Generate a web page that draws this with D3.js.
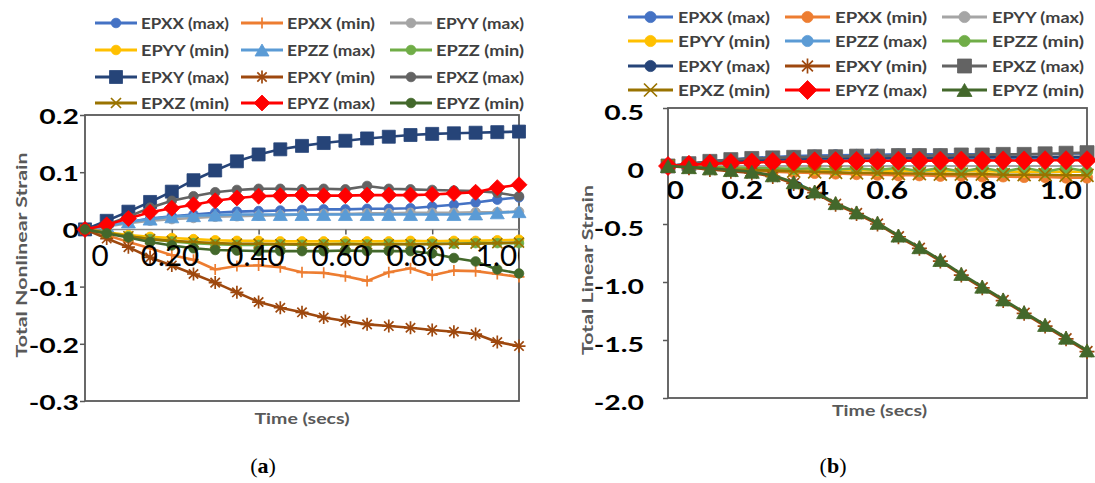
<!DOCTYPE html>
<html>
<head>
<meta charset="utf-8">
<script src="https://cdn.jsdelivr.net/npm/d3@7"></script>
<style>
  body { margin: 0; background: #fff; }
  svg { display: block; }
  text { font-family: Lato, "Liberation Sans", Arial, sans-serif; }
</style>
</head>
<body>
<svg id="fig" width="1095" height="483"></svg>
<script>
// ---- data -------------------------------------------------------------
const timeSteps = [0, 0.05, 0.1, 0.15, 0.2, 0.25, 0.3, 0.35, 0.4, 0.45, 0.5,
                   0.55, 0.6, 0.65, 0.7, 0.75, 0.8, 0.85, 0.9, 0.95, 1.0];

const seriesNames = ["EPXX (max)", "EPXX (min)", "EPYY (max)", "EPYY (min)",
                     "EPZZ (max)", "EPZZ (min)", "EPXY (max)", "EPXY (min)",
                     "EPXZ (max)", "EPXZ (min)", "EPYZ (max)", "EPYZ (min)"];

const seriesColors = ["#4472C4", "#ED7D31", "#A5A5A5", "#FFC000", "#5B9BD5", "#70AD47",
                      "#264478", "#9E480E", "#636363", "#997300", "#FF0000", "#43682B"];

// (a) total nonlinear strain
const nlEPXXmax = [0, 0.006, 0.013, 0.019, 0.023, 0.026, 0.029, 0.031, 0.032, 0.033, 0.034, 0.035, 0.035, 0.036, 0.036, 0.037, 0.040, 0.043, 0.047, 0.052, 0.056];
const nlEPXXmin = [0, -0.010, -0.022, -0.033, -0.045, -0.053, -0.070, -0.064, -0.063, -0.066, -0.075, -0.076, -0.082, -0.090, -0.075, -0.068, -0.080, -0.072, -0.073, -0.078, -0.083];
const nlEPYYmax = [0, 0.005, 0.011, 0.015, 0.018, 0.020, 0.022, 0.023, 0.024, 0.025, 0.026, 0.027, 0.027, 0.028, 0.028, 0.029, 0.029, 0.029, 0.030, 0.030, 0.031];
const nlEPYYmin = [0, -0.005, -0.010, -0.013, -0.015, -0.017, -0.019, -0.020, -0.020, -0.021, -0.021, -0.021, -0.021, -0.021, -0.021, -0.020, -0.021, -0.020, -0.020, -0.019, -0.018];
const nlEPZZmax = [0, 0.006, 0.013, 0.018, 0.022, 0.024, 0.025, 0.026, 0.026, 0.026, 0.026, 0.026, 0.026, 0.026, 0.026, 0.026, 0.026, 0.026, 0.027, 0.029, 0.031];
const nlEPZZmin = [0, -0.006, -0.012, -0.017, -0.021, -0.024, -0.026, -0.027, -0.027, -0.026, -0.027, -0.026, -0.025, -0.026, -0.025, -0.026, -0.025, -0.025, -0.024, -0.024, -0.024];
const nlEPXYmax = [0, 0.015, 0.031, 0.048, 0.066, 0.086, 0.103, 0.119, 0.131, 0.140, 0.146, 0.151, 0.155, 0.159, 0.162, 0.165, 0.167, 0.168, 0.169, 0.170, 0.171];
const nlEPXYmin = [0, -0.016, -0.031, -0.049, -0.063, -0.078, -0.093, -0.110, -0.127, -0.137, -0.145, -0.154, -0.160, -0.166, -0.169, -0.172, -0.176, -0.179, -0.183, -0.197, -0.204];
const nlEPXZmax = [0, 0.008, 0.022, 0.038, 0.050, 0.058, 0.065, 0.069, 0.071, 0.071, 0.070, 0.071, 0.070, 0.076, 0.071, 0.070, 0.069, 0.068, 0.067, 0.064, 0.058];
const nlEPXZmin = [0, -0.006, -0.012, -0.017, -0.020, -0.022, -0.024, -0.025, -0.025, -0.026, -0.026, -0.026, -0.026, -0.026, -0.026, -0.026, -0.026, -0.025, -0.025, -0.024, -0.023];
const nlEPYZmax = [0, 0.008, 0.019, 0.030, 0.037, 0.043, 0.050, 0.055, 0.058, 0.059, 0.060, 0.059, 0.059, 0.060, 0.060, 0.060, 0.061, 0.063, 0.065, 0.073, 0.078];
const nlEPYZmin = [0, -0.007, -0.014, -0.022, -0.028, -0.033, -0.036, -0.037, -0.038, -0.038, -0.038, -0.038, -0.037, -0.038, -0.038, -0.038, -0.042, -0.050, -0.056, -0.070, -0.077];

// (b) total linear strain
const linEPXXmax = [0, 0.02, 0.04, 0.055, 0.07, 0.078, 0.085, 0.09, 0.093, 0.095, 0.097, 0.1, 0.1, 0.1, 0.1, 0.1, 0.1, 0.1, 0.1, 0.1, 0.1];
const linEPXXmin = [0, -0.01, -0.02, -0.03, -0.04, -0.05, -0.055, -0.06, -0.065, -0.07, -0.075, -0.08, -0.08, -0.085, -0.085, -0.09, -0.09, -0.095, -0.095, -0.1, -0.1];
const linEPYYmax = [0, 0.015, 0.03, 0.045, 0.055, 0.06, 0.065, 0.07, 0.07, 0.075, 0.075, 0.075, 0.08, 0.08, 0.08, 0.08, 0.08, 0.08, 0.08, 0.085, 0.085];
const linEPYYmin = [0, -0.005, -0.01, -0.015, -0.02, -0.025, -0.03, -0.03, -0.035, -0.035, -0.04, -0.04, -0.04, -0.045, -0.045, -0.045, -0.05, -0.05, -0.05, -0.05, -0.05];
const linEPZZmax = [0, 0.01, 0.02, 0.03, 0.035, 0.04, 0.045, 0.05, 0.05, 0.05, 0.055, 0.055, 0.055, 0.055, 0.06, 0.06, 0.06, 0.06, 0.06, 0.06, 0.06];
const linEPZZmin = [0, -0.005, -0.01, -0.015, -0.02, -0.02, -0.025, -0.02, -0.03, -0.02, -0.035, -0.015, -0.045, -0.015, -0.05, -0.015, -0.05, -0.015, -0.05, -0.015, -0.045];
const linEPXYmax = [0, 0.015, 0.03, 0.04, 0.05, 0.055, 0.06, 0.065, 0.065, 0.07, 0.07, 0.07, 0.07, 0.07, 0.075, 0.075, 0.075, 0.075, 0.075, 0.075, 0.075];
const linEPXYmin = [0, -0.015, -0.03, -0.045, -0.06, -0.09, -0.15, -0.23, -0.33, -0.41, -0.50, -0.61, -0.71, -0.82, -0.94, -1.05, -1.16, -1.27, -1.38, -1.49, -1.60];
const linEPXZmax = [0, 0.02, 0.04, 0.055, 0.065, 0.07, 0.075, 0.08, 0.08, 0.085, 0.085, 0.09, 0.09, 0.09, 0.095, 0.095, 0.1, 0.1, 0.105, 0.11, 0.115];
const linEPXZmin = [0, -0.01, -0.02, -0.03, -0.035, -0.04, -0.045, -0.05, -0.055, -0.06, -0.06, -0.065, -0.065, -0.07, -0.07, -0.07, -0.075, -0.075, -0.075, -0.08, -0.08];
const linEPYZmax = [0, 0.01, 0.02, 0.025, 0.03, 0.035, 0.038, 0.04, 0.042, 0.044, 0.045, 0.045, 0.046, 0.046, 0.047, 0.047, 0.048, 0.048, 0.05, 0.05, 0.05];
const linEPYZmin = [0, -0.01, -0.02, -0.035, -0.05, -0.08, -0.14, -0.22, -0.32, -0.40, -0.49, -0.60, -0.70, -0.81, -0.93, -1.04, -1.15, -1.26, -1.37, -1.48, -1.59];

// axis tick labels
const nlYTicks = [0.2, 0.1, 0, -0.1, -0.2, -0.3];
const nlYTickLabels = ["0.2", "0.1", "0", "-0.1", "-0.2", "-0.3"];
const nlXTickLabels = ["0", "0.20", "0.40", "0.60", "0.80", "1.00"];
const nlXTickLabelAt = [0.035, 0.196, 0.393, 0.589, 0.762, 0.968];

const linYTicks = [0.5, 0, -0.5, -1.0, -1.5, -2.0];
const linYTickLabels = ["0.5", "0", "-0.5", "-1.0", "-1.5", "-2.0"];
const linXTickLabels = ["0", "0.2", "0.4", "0.6", "0.8", "1.0"];
const linXTickLabelAt = [0.017, 0.177, 0.334, 0.523, 0.735, 0.938];

const nlSeries = [nlEPXXmax, nlEPXXmin, nlEPYYmax, nlEPYYmin, nlEPZZmax, nlEPZZmin,
                  nlEPXYmax, nlEPXYmin, nlEPXZmax, nlEPXZmin, nlEPYZmax, nlEPYZmin];
const linSeries = [linEPXXmax, linEPXXmin, linEPYYmax, linEPYYmin, linEPZZmax, linEPZZmin,
                   linEPXYmax, linEPXYmin, linEPXZmax, linEPXZmin, linEPYZmax, linEPYZmin];

const nlMarkers = ["circle", "plus", "circle", "circle", "triangle", "circle",
                   "square", "asterisk", "circle", "x", "diamond", "circle"];
const linMarkers = ["circle", "circle", "circle", "circle", "circle", "circle",
                    "circle", "asterisk", "square", "x", "diamond", "triangle"];

// ---- helpers ----------------------------------------------------------
const svg = d3.select("#fig");
const AXIS_GREY = "#595959";

function markerPath(type, s) {
  switch (type) {
    case "circle":   return d3.symbol(d3.symbolCircle, Math.PI * s.r * s.r)();
    case "square":   { const h = s.sq / 2; return `M${-h},${-h}H${h}V${h}H${-h}Z`; }
    case "triangle": { const w = s.tw / 2, h = s.th / 2; return `M0,${-h}L${w},${h}L${-w},${h}Z`; }
    case "diamond":  { const d = s.dm; return `M0,${-d}L${d},0L0,${d}L${-d},0Z`; }
    case "plus":     { const p = s.pl; return `M${-p},0H${p}M0,${-p}V${p}`; }
    case "x":        { const p = s.xs; return `M${-p},${-p}L${p},${p}M${-p},${p}L${p},${-p}`; }
    case "asterisk": { const p = s.as, q = p * 0.72;
                       return `M${-p},0H${p}M0,${-p}V${p}M${-q},${-q}L${q},${q}M${-q},${q}L${q},${-q}`; }
  }
}
const strokedMarkers = new Set(["plus", "x", "asterisk"]);

function styleMarker(sel, type, color) {
  if (strokedMarkers.has(type)) {
    sel.attr("fill", "none").attr("stroke", color).attr("stroke-width", 1.7);
  } else {
    sel.attr("fill", color).attr("stroke", color).attr("stroke-width", 0.8);
  }
}

// widen text horizontally by factor k
function widen(sel, k) {
  sel.each(function () {
    const w = this.getComputedTextLength();
    this.setAttribute("textLength", w * k);
    this.setAttribute("lengthAdjust", "spacingAndGlyphs");
  });
}

// ---- one panel ----------------------------------------------------------
function drawPanel(p) {
  const x = d3.scaleLinear().domain([0, 1]).range([p.left, p.right]);
  const y = d3.scaleLinear().domain(p.yDomain).range([p.bottom, p.top]);
  const g = svg.append("g");

  svg.append("clipPath").attr("id", p.id + "-clip")
    .append("rect").attr("x", p.left).attr("y", p.top)
    .attr("width", p.right - p.left).attr("height", p.bottom - p.top);

  // frame
  g.append("rect").attr("x", p.left).attr("y", p.top)
    .attr("width", p.right - p.left).attr("height", p.bottom - p.top)
    .attr("fill", "none").attr("stroke", AXIS_GREY).attr("stroke-width", 1.8);

  // horizontal axis through zero
  g.append("line").attr("x1", x(0)).attr("x2", x(1)).attr("y1", y(0)).attr("y2", y(0))
    .attr("stroke", "#8a8a8a").attr("stroke-width", 1.5);
  if (p.xTickMarks.length) {
    g.append("g").attr("transform", `translate(0,${y(0)})`)
      .call(d3.axisBottom(x).tickValues(p.xTickMarks).tickSize(5).tickFormat(""))
      .call(a => a.select(".domain").remove())
      .selectAll("line").attr("stroke", AXIS_GREY).attr("stroke-width", 1.5);
  }

  // vertical axis ticks and labels
  g.append("g").attr("transform", `translate(${p.left},0)`)
    .call(d3.axisLeft(y).tickValues(p.yTicks).tickSize(5).tickFormat(""))
    .call(a => a.select(".domain").remove())
    .selectAll("line").attr("stroke", AXIS_GREY).attr("stroke-width", 1.5);

  g.append("g").selectAll("text").data(p.yTicks).join("text")
    .attr("x", p.yLabelRight).attr("y", (d, i) => y(d) + p.yLabelDy)
    .attr("text-anchor", "end").attr("font-size", 21).attr("font-weight", "bold")
    .attr("fill", "#000").text((d, i) => p.yTickLabels[i])
    .call(widen, 1.35);

  // category labels along the zero line
  function categoryLabels() {
    g.append("g").attr("clip-path", `url(#${p.id}-clip)`)
      .selectAll("text").data(p.xTickLabels).join("text")
      .attr("x", (d, i) => x(p.xTickLabelAt[i])).attr("y", y(0) + p.xLabelDy)
      .attr("text-anchor", "middle").attr("font-size", p.xLabelSize)
      .attr("font-weight", p.xLabelWeight).attr("fill", "#000").text(d => d)
      .call(widen, p.xLabelWiden);
  }
  if (!p.labelsOnTop) categoryLabels();

  // series: line, then markers, in legend order
  const line = d3.line().x((d, i) => x(timeSteps[i])).y(d => y(d));
  p.series.forEach((vals, k) => {
    const color = seriesColors[k], type = p.markers[k];
    const sg = g.append("g");
    sg.append("path").datum(vals).attr("d", line)
      .attr("fill", "none").attr("stroke", color).attr("stroke-width", 2.6)
      .attr("stroke-linejoin", "round");
    sg.selectAll("path.m").data(vals).join("path").attr("class", "m")
      .attr("transform", (d, i) => `translate(${x(timeSteps[i])},${y(d)})`)
      .attr("d", markerPath(type, p.markerSize))
      .call(styleMarker, type, color);
  });

  if (p.labelsOnTop) categoryLabels();

  // axis titles
  g.append("text")
    .attr("transform", `translate(${p.yTitleX},${p.yTitleY}) rotate(-90)`)
    .attr("text-anchor", "middle").attr("font-size", 16).attr("font-weight", "bold")
    .attr("fill", AXIS_GREY).text(p.yTitle)
    .attr("textLength", p.yTitleLen).attr("lengthAdjust", "spacingAndGlyphs");
  g.append("text").attr("x", (p.left + p.right) / 2 + p.xTitleShift).attr("y", p.xTitleY)
    .attr("text-anchor", "middle").attr("font-size", 16).attr("font-weight", "bold")
    .attr("fill", AXIS_GREY).text("Time (secs)")
    .attr("textLength", 95).attr("lengthAdjust", "spacingAndGlyphs");

  // legend, three columns by four rows
  const lg = g.append("g");
  seriesNames.forEach((name, k) => {
    const row = Math.floor(k / 3), col = k % 3;
    const lx = p.legendCols[col], ly = p.legendRows[row];
    const color = seriesColors[k], type = p.markers[k];
    lg.append("line").attr("x1", lx).attr("x2", lx + p.legendLine)
      .attr("y1", ly).attr("y2", ly).attr("stroke", color).attr("stroke-width", 2.8);
    lg.append("path").attr("transform", `translate(${lx + p.legendLine / 2},${ly})`)
      .attr("d", markerPath(type, p.markerSize)).call(styleMarker, type, color);
    lg.append("text").attr("x", lx + p.legendLine + p.legendGap).attr("y", ly + 5.5)
      .attr("font-size", 16).attr("font-weight", "bold").attr("fill", "#404040")
      .text(name).attr("textLength", p.legendTextLen).attr("lengthAdjust", "spacingAndGlyphs");
  });

  // panel caption
  const cap = svg.append("text").attr("x", p.captionX).attr("y", 473)
    .attr("text-anchor", "middle").attr("font-size", 22)
    .style("font-family", '"Liberation Serif", "DejaVu Serif", serif').attr("fill", "#000");
  cap.append("tspan").text("(");
  cap.append("tspan").attr("font-weight", "bold").text(p.caption);
  cap.append("tspan").text(")");
}

drawPanel({
  id: "nl", left: 85, right: 519, top: 115, bottom: 401, yDomain: [-0.3, 0.2],
  yTicks: nlYTicks, yTickLabels: nlYTickLabels, yLabelRight: 79, yLabelDy: 9,
  xTickMarks: [0.2, 0.4, 0.6, 0.8], xTickLabels: nlXTickLabels, xTickLabelAt: nlXTickLabelAt,
  xLabelDy: 36.5, xLabelSize: 29, xLabelWeight: "normal", xLabelWiden: 1.02, labelsOnTop: true,
  series: nlSeries, markers: nlMarkers,
  markerSize: { r: 4.8, sq: 13, tw: 14, th: 12, dm: 8, pl: 5.5, xs: 5, as: 6.5 },
  yTitle: "Total Nonlinear Strain", yTitleX: 27, yTitleY: 255, yTitleLen: 205,
  xTitleShift: 0, xTitleY: 424,
  legendCols: [95, 241, 390], legendRows: [23, 50, 77, 103], legendLine: 42, legendGap: 4,
  legendTextLen: [88], caption: "a", captionX: 263
});

drawPanel({
  id: "lin", left: 668, right: 1087, top: 108, bottom: 398, yDomain: [-2.0, 0.5],
  yTicks: linYTicks, yTickLabels: linYTickLabels, yLabelRight: 644, yLabelDy: 12,
  xTickMarks: [], xTickLabels: linXTickLabels, xTickLabelAt: linXTickLabelAt,
  xLabelDy: 33, xLabelSize: 24, xLabelWeight: "bold", xLabelWiden: 1.25, labelsOnTop: false,
  series: linSeries, markers: linMarkers,
  markerSize: { r: 5.6, sq: 14, tw: 15, th: 13, dm: 9.5, pl: 6, xs: 6.5, as: 7.5 },
  yTitle: "Total Linear Strain", yTitleX: 593, yTitleY: 270, yTitleLen: 170,
  xTitleShift: 2, xTitleY: 416,
  legendCols: [628, 785, 942], legendRows: [17, 41, 66, 90], legendLine: 45, legendGap: 5,
  legendTextLen: [92], caption: "b", captionX: 833
});
</script>
</body>
</html>
